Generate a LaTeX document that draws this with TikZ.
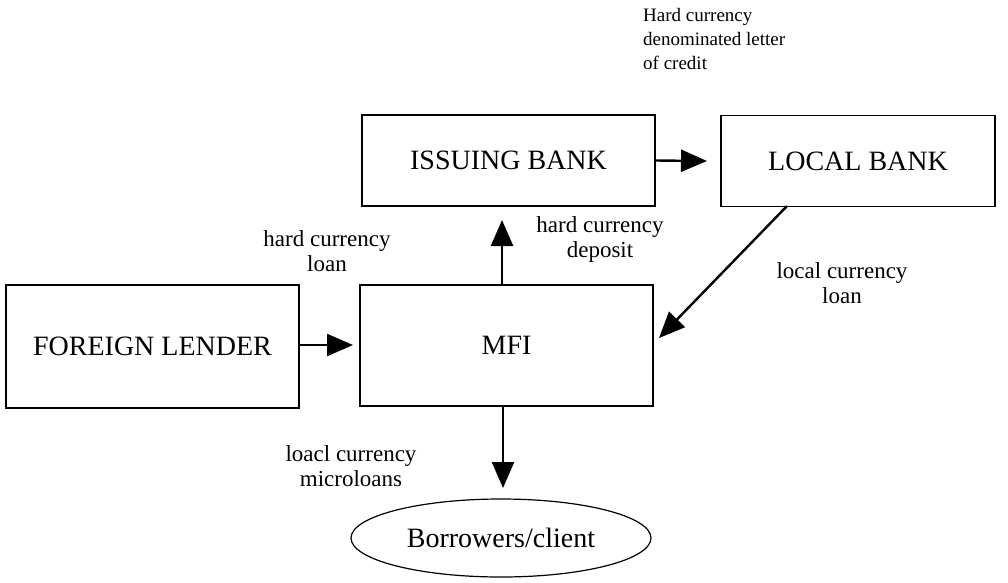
\documentclass[tikz,border=0pt]{standalone}
\usepackage{fontspec}
\setmainfont{Liberation Serif}
\usetikzlibrary{arrows.meta,shapes.geometric}
\begin{document}
\begin{tikzpicture}[x=1pt,y=-1pt,
  box/.style={draw,line width=1.2pt,minimum width=293pt,minimum height=91pt,inner sep=0pt,font=\fontsize{28}{32}\selectfont},
  flow/.style={line width=2.4pt,-{Triangle[length=26pt,width=22pt]}},
  lbl/.style={align=center,font=\fontsize{23}{25}\selectfont,inner sep=0pt},
]
\useasboundingbox (0,0) rectangle (1008,582);
\node[box] (issuing) at (508.5,160.5) {ISSUING BANK};
\node[box,minimum width=274pt] (local) at (858,161) {LOCAL BANK};
\node[box,minimum height=123pt] (foreign) at (152.5,346.5) {FOREIGN LENDER};
\node[box,minimum height=121pt] (mfi) at (506.5,345.5) {MFI};
\node[draw,line width=1.2pt,ellipse,minimum width=300pt,minimum height=78pt,inner sep=0pt,font=\fontsize{28}{32}\selectfont] (borrowers) at (501,538) {Borrowers/client};
\coordinate (lbout) at (787,206);
\coordinate (mfiin) at (659,338);
\draw[flow] (issuing.east) -- (707,161);
\draw[flow] (502,285) -- (502,220);
\draw[flow] (foreign.east |- 0,345) -- (353,345);
\draw[flow] (503,406) -- (503,488);
\draw[flow] (lbout) -- (mfiin);
\node[lbl,align=left,anchor=north west,font=\fontsize{19}{24}\selectfont] (lc) at (643,8) {Hard currency\\denominated letter\\of credit};
\node[lbl] (hcl) at (327,251) {hard currency\\loan};
\node[lbl] (hcd) at (600,239) {hard currency\\deposit};
\node[lbl] (lcl) at (842,283) {local currency\\loan};
\node[lbl] (lcm) at (351,466) {loacl currency\\microloans};
\end{tikzpicture}
\end{document}
